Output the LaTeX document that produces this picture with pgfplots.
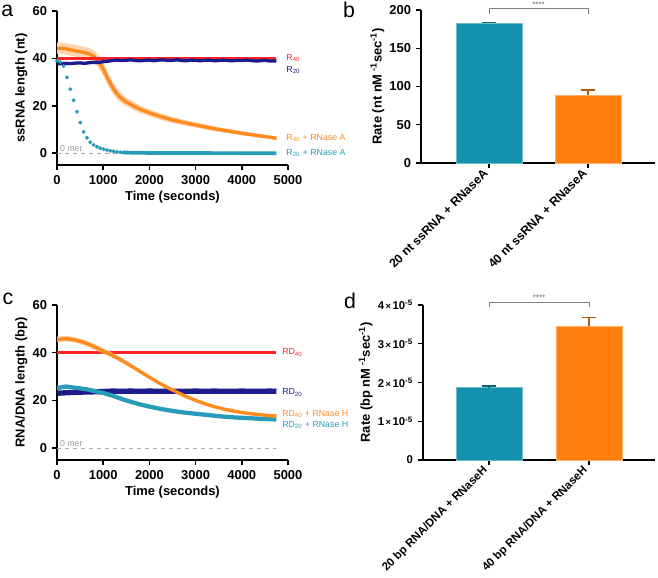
\documentclass[border=0pt]{standalone}
\usepackage{pgfplots}
\pgfplotsset{compat=1.18}
\usepackage{pgfplotstable}
\usepgfplotslibrary{fillbetween}
\usepackage{fontspec}
\setmainfont{Liberation Sans}

\definecolor{cred}{RGB}{255,35,35}
\definecolor{cnavy}{RGB}{28,28,140}
\definecolor{corange}{RGB}{255,138,30}
\definecolor{cteal}{RGB}{40,155,185}
\definecolor{bteal}{RGB}{20,146,172}
\definecolor{borange}{RGB}{255,127,14}

\newcommand{\tickfont}{\fontsize{9.7}{11}\selectfont\bfseries}
\newcommand{\serfont}{\fontsize{6.6}{7.5}\selectfont}

\pgfplotstableread{
t m e
0 44.3 2.3
100 44.3 2.3
200 44.0 2.3
300 43.6 2.3
400 43.2 2.3
500 42.8 2.3
600 42.4 2.3
700 41.9 2.3
800 40.8 2.3
900 38.6 2.4
1000 35.5 2.4
1100 31.5 2.3
1200 27.8 2.2
1300 25.0 2.0
1400 23.0 1.8
1500 21.6 1.6
1650 20.0 1.5
1800 18.5 1.4
2000 17.0 1.3
2250 15.4 1.2
2500 14.0 1.1
2750 12.9 1.0
3000 11.9 0.9
3250 10.9 0.9
3500 10.0 0.8
3750 9.2 0.8
4000 8.4 0.7
4250 7.7 0.7
4500 7.0 0.6
4750 6.3 0.6
}\orangeA

\pgfplotstableread{
t m e
0 45.6 1.0
200 45.9 1.0
400 45.3 1.0
600 44.2 1.0
800 42.6 1.0
1000 40.7 1.0
1200 38.9 0.9
1400 36.8 0.8
1600 34.5 0.7
1800 32.1 0.6
2000 29.7 0.5
2200 27.4 0.5
2400 25.3 0.5
2600 23.4 0.5
2800 21.6 0.5
3000 20.0 0.5
3200 18.6 0.5
3400 17.4 0.5
3600 16.4 0.5
3800 15.6 0.5
4000 14.9 0.5
4200 14.4 0.5
4400 14.0 0.5
4600 13.6 0.5
4750 13.4 0.5
}\orangeC

\pgfplotsset{
  panel/.style={
    scale only axis,
    axis lines=left,
    axis line style={-, line width=1.1pt},
    tick style={black, line width=1.1pt},
    major tick length=4pt,
    tick align=outside,
    tick label style={font=\tickfont},
    label style={font=\tickfont},
    /pgf/number format/assume math mode=true,
    /pgf/number format/1000 sep={},
    clip=false,
  },
  lineaxis/.style={
    panel,
    width=173.25pt,
    xmin=0, xmax=5000,
    ymin=-5, ymax=60,
    xtick={0,1000,2000,3000,4000,5000},
    ytick={0,20,40,60},
    xlabel={Time (seconds)},
    xlabel style={yshift=2pt},
    ylabel style={yshift=-3pt},
  },
}

\begin{document}
\begin{tikzpicture}

% panel letters
\node[font=\fontsize{16}{18}\selectfont] at (5.5pt,-8.5pt) {a};
\node[font=\fontsize{16}{18}\selectfont] at (261.75pt,-7.5pt) {b};
\node[font=\fontsize{16}{18}\selectfont] at (6pt,-224pt) {c};
\node[font=\fontsize{16}{18}\selectfont] at (262.5pt,-226pt) {d};

% ---------------- panel a ----------------
\begin{axis}[lineaxis, at={(42.75pt,-123.75pt)}, anchor=south west,
  height=115.5pt, ylabel={ssRNA length (nt)}]
\addplot[gray!70, dashed, line width=0.5pt] coordinates {(0,0) (4750,0)};
\addplot[name path=au, draw=corange!45, line width=0.4pt] table[x=t, y expr=\thisrow{m}+\thisrow{e}] {\orangeA};
\addplot[name path=al, draw=corange!45, line width=0.4pt] table[x=t, y expr=\thisrow{m}-\thisrow{e}] {\orangeA};
\addplot[corange!35] fill between[of=au and al];
\addplot[corange, line width=2.5pt] table[x=t, y=m] {\orangeA};
\addplot[cred, line width=2.8pt] coordinates {(0,40) (4750,40)};
\addplot[cnavy, line width=2.5pt] coordinates {
(0,37.8) (100,37.7) (200,37.9) (300,37.8) (400,38.0) (500,38.1) (600,37.9) (700,38.2)
(800,38.3) (900,38.3) (1000,38.6) (1100,38.8) (1200,39.1) (1300,39.3) (1400,39.1)
(1500,39.2) (1600,39.4) (1700,39.1) (1800,39.0) (1900,39.2) (2000,39.3) (2100,39.0)
(2200,39.3) (2300,39.4) (2400,39.1) (2500,39.2) (2600,39.4) (2700,39.1) (2800,39.0)
(2900,39.3) (3000,39.2) (3100,39.0) (3200,39.2) (3300,39.3) (3400,39.0) (3500,39.1)
(3600,39.3) (3700,39.1) (3800,39.0) (3900,39.2) (4000,39.1) (4100,39.3) (4200,39.1)
(4300,38.9) (4400,39.0) (4500,39.2) (4600,38.9) (4700,38.9) (4750,39.0)};
\addplot[only marks, mark=*, mark size=1.3pt, cteal, mark options={draw=cteal, fill=cteal}] coordinates {
(0,39.0) (72,38.5) (144,36.8) (216,32.0) (288,27.0) (360,22.3) (432,17.5) (504,12.9)
(576,9.0) (648,6.5) (720,4.6) (792,3.5) (864,2.7) (936,2.1) (1008,1.7) (1080,1.3)
(1152,1.0) (1224,0.75) (1296,0.55) (1368,0.42) (1440,0.3) (1512,0.25)};
\addplot[cteal, line width=2.8pt] coordinates {
(1440,0.3) (1512,0.25) (1600,0.2) (2000,0.1) (2500,0.05) (3000,0.02) (4750,0)};
\node[anchor=south west, inner sep=0pt, text=gray!80, font=\serfont] at (axis cs:60,0.5) {0 mer};
\node[anchor=west, inner sep=0pt, text=cred, font=\serfont] at (axis cs:4960,40.3) {R\textsubscript{40}};
\node[anchor=west, inner sep=0pt, text=cnavy, font=\serfont] at (axis cs:4960,35.2) {R\textsubscript{20}};
\node[anchor=west, inner sep=0pt, text=corange, font=\serfont] at (axis cs:4960,6.3) {R\textsubscript{40} + RNase A};
\node[anchor=west, inner sep=0pt, text=cteal, font=\serfont] at (axis cs:4960,0) {R\textsubscript{20} + RNase A};
\end{axis}

% ---------------- panel b ----------------
\begin{axis}[panel, at={(315.75pt,-122.25pt)}, anchor=south west,
  width=175.5pt, height=114.75pt,
  xmin=-0.687, xmax=1.677, ymin=0, ymax=200,
  ytick={0,50,100,150,200},
  xtick={0,1},
  xticklabels={20 nt ssRNA + RNaseA, 40 nt ssRNA + RNaseA},
  x tick label style={rotate=45, anchor=east, font=\fontsize{9.2}{11}\selectfont\bfseries},
  ylabel={Rate (nt nM\textsuperscript{ -1}sec\textsuperscript{-1})},
  ylabel style={yshift=-3pt},
]
\addplot[ybar, bar width=0.667, bar shift=0pt, fill=bteal, draw=bteal!60!white, line width=0.4pt,
  error bars/.cd, y dir=plus, y explicit,
  error bar style={line width=1pt, color=bteal!70!black},
  error mark options={rotate=90, mark size=5.5pt, line width=1pt, color=bteal!70!black}]
  coordinates {(0,183) +- (0,0.8)};
\addplot[ybar, bar width=0.667, bar shift=0pt, fill=borange, draw=borange!60!white, line width=0.4pt,
  error bars/.cd, y dir=plus, y explicit,
  error bar style={line width=1pt, color=borange!70!black},
  error mark options={rotate=90, mark size=5.5pt, line width=1pt, color=borange!70!black}]
  coordinates {(1,89) +- (0,6.3)};
\draw[gray, line width=0.6pt] (axis cs:0,195) -- (axis cs:0,202) -- (axis cs:1,202) -- (axis cs:1,195);
\node[text=gray!80!black, font=\fontsize{6}{7}\selectfont, inner sep=0pt] at (axis cs:0.5,207) {****};
\end{axis}

% ---------------- panel c ----------------
\begin{axis}[lineaxis, at={(42.75pt,-345pt)}, anchor=south west,
  height=116.25pt, ylabel={RNA/DNA length (bp)}]
\addplot[gray!70, dashed, line width=0.5pt] coordinates {(0,0) (4750,0)};
\addplot[cred, line width=2.5pt] coordinates {(0,40) (4750,40)};
\addplot[cnavy, line width=4pt] coordinates {
(0,23.0) (200,23.2) (400,23.4) (600,23.5) (800,23.6) (1000,23.7) (1200,23.9) (1400,23.8)
(1600,23.9) (1800,23.8) (2000,23.9) (2200,23.8) (2400,23.9) (2600,23.8) (2800,23.8)
(3000,23.9) (3200,23.8) (3400,23.9) (3600,23.8) (3800,23.8) (4000,23.9) (4200,23.8)
(4400,23.8) (4600,23.9) (4750,23.8)};
\addplot[cteal, line width=3.2pt] coordinates {
(0,25.2) (200,25.8) (400,25.3) (600,24.8) (800,24.0) (1000,23.1) (1200,22.0) (1400,20.6)
(1600,19.4) (1800,18.3) (2000,17.4) (2200,16.6) (2400,15.9) (2600,15.3) (2800,14.8)
(3000,14.4) (3200,14.0) (3400,13.6) (3600,13.2) (3800,12.9) (4000,12.7) (4200,12.5)
(4400,12.3) (4600,12.1) (4750,12.0)};
\addplot[name path=cu, draw=corange!45, line width=0.4pt] table[x=t, y expr=\thisrow{m}+\thisrow{e}] {\orangeC};
\addplot[name path=cl, draw=corange!45, line width=0.4pt] table[x=t, y expr=\thisrow{m}-\thisrow{e}] {\orangeC};
\addplot[corange!35] fill between[of=cu and cl];
\addplot[corange, line width=2.5pt] table[x=t, y=m] {\orangeC};
\node[anchor=south west, inner sep=0pt, text=gray!80, font=\serfont] at (axis cs:60,0.5) {0 mer};
\node[anchor=west, inner sep=0pt, text=cred, font=\serfont] at (axis cs:4870,40.1) {RD\textsubscript{40}};
\node[anchor=west, inner sep=0pt, text=cnavy, font=\serfont] at (axis cs:4870,23.3) {RD\textsubscript{20}};
\node[anchor=west, inner sep=0pt, text=corange, font=\serfont] at (axis cs:4870,14.4) {RD\textsubscript{40} + RNase H};
\node[anchor=west, inner sep=0pt, text=cteal, font=\serfont] at (axis cs:4870,9.8) {RD\textsubscript{20} + RNase H};
\end{axis}

% ---------------- panel d ----------------
\begin{axis}[panel, at={(317.25pt,-345pt)}, anchor=south west,
  width=174pt, height=116.25pt,
  xmin=-0.66, xmax=1.66, ymin=0, ymax=4e-5,
  scaled y ticks=false,
  ytick={0,1e-5,2e-5,3e-5,4e-5},
  yticklabels={0, 1{\fontsize{7}{8}\selectfont\,×\,}10\textsuperscript{-5}, 2{\fontsize{7}{8}\selectfont\,×\,}10\textsuperscript{-5}, 3{\fontsize{7}{8}\selectfont\,×\,}10\textsuperscript{-5}, 4{\fontsize{7}{8}\selectfont\,×\,}10\textsuperscript{-5}},
  y tick label style={font=\fontsize{8.5}{10}\selectfont\bfseries},
  xtick={0,1},
  xticklabels={20 bp RNA/DNA + RNaseH, 40 bp RNA/DNA + RNaseH},
  x tick label style={rotate=45, anchor=east, font=\fontsize{8.6}{10}\selectfont\bfseries},
  ylabel={Rate (bp nM\textsuperscript{ -1}sec\textsuperscript{-1})},
  ylabel style={yshift=-3pt},
]
\addplot[ybar, bar width=0.66, bar shift=0pt, fill=bteal, draw=bteal!60!white, line width=0.4pt,
  error bars/.cd, y dir=plus, y explicit,
  error bar style={line width=1pt, color=bteal!70!black},
  error mark options={rotate=90, mark size=5.5pt, line width=1pt, color=bteal!70!black}]
  coordinates {(0,1.866e-5) +- (0,0.045e-5)};
\addplot[ybar, bar width=0.66, bar shift=0pt, fill=borange, draw=borange!60!white, line width=0.4pt,
  error bars/.cd, y dir=plus, y explicit,
  error bar style={line width=1pt, color=borange!70!black},
  error mark options={rotate=90, mark size=5.5pt, line width=1pt, color=borange!70!black}]
  coordinates {(1,3.46e-5) +- (0,0.22e-5)};
\draw[gray, line width=0.6pt] (axis cs:0,3.94e-5) -- (axis cs:0,4.08e-5) -- (axis cs:1,4.08e-5) -- (axis cs:1,3.94e-5);
\node[text=gray!80!black, font=\fontsize{6}{7}\selectfont, inner sep=0pt] at (axis cs:0.5,4.2e-5) {****};
\end{axis}

\pgfresetboundingbox
\useasboundingbox (0pt,0pt) rectangle (493.5pt,-433.5pt);
\end{tikzpicture}
\end{document}
